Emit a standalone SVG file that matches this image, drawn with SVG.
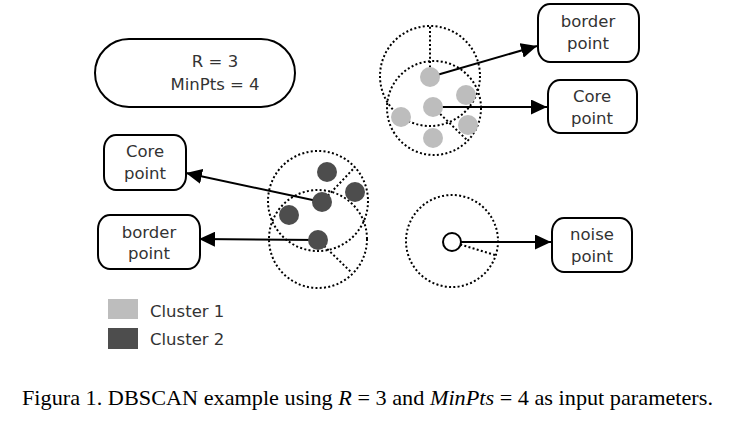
<svg xmlns="http://www.w3.org/2000/svg" width="729" height="423" viewBox="0 0 729 423">
<style>
.box{fill:#fff;stroke:#000;stroke-width:2}
.lbl{font-family:"DejaVu Sans",sans-serif;font-size:16.5px;fill:#333;text-anchor:middle}
.zone{fill:none;stroke:#000;stroke-width:2;stroke-dasharray:2 2.3}
.conn{stroke:#000;stroke-width:2;fill:none}
.c1{fill:#bdbdbd}
.c2{fill:#4d4d4d}
.cap{font-family:"Liberation Serif",serif;font-size:22px;fill:#000}
</style>
<defs>
<marker id="arr" markerUnits="userSpaceOnUse" markerWidth="17" markerHeight="15" refX="16" refY="7.5" orient="auto">
<path d="M0,0 L16,7.5 L0,15 Z" fill="#000"/>
</marker>
</defs>
<rect width="729" height="423" fill="#fff"/>

<g id="params">
<rect class="box" x="95" y="39" width="200" height="68" rx="34" ry="34"/>
<text class="lbl" x="215" y="67">R = 3</text>
<text class="lbl" x="215" y="90">MinPts = 4</text>
</g>

<g id="zones">
<circle class="zone" cx="430" cy="76" r="50"/>
<circle class="zone" cx="434" cy="108" r="47"/>
<line class="zone" x1="430" y1="76" x2="430" y2="26"/>
<line class="zone" x1="434" y1="108" x2="468" y2="141"/>
<circle class="zone" cx="318" cy="201" r="50"/>
<circle class="zone" cx="318" cy="239" r="49"/>
<line class="zone" x1="322" y1="202" x2="355" y2="167"/>
<line class="zone" x1="318" y1="240" x2="352" y2="273"/>
<circle class="zone" cx="452" cy="241" r="46"/>
<line class="zone" x1="452" y1="242" x2="495" y2="255"/>
</g>

<g id="connectors">
<line class="conn" x1="430" y1="77" x2="537" y2="46" marker-end="url(#arr)"/>
<line class="conn" x1="433" y1="107" x2="547" y2="107" marker-end="url(#arr)"/>
<line class="conn" x1="322" y1="202" x2="186" y2="173" marker-end="url(#arr)"/>
<line class="conn" x1="318" y1="240" x2="199" y2="239" marker-end="url(#arr)"/>
<line class="conn" x1="452" y1="242" x2="551" y2="242" marker-end="url(#arr)"/>
</g>

<g id="cluster1">
<circle class="c1" cx="430" cy="77" r="10"/>
<circle class="c1" cx="433" cy="107" r="10"/>
<circle class="c1" cx="466" cy="95" r="10"/>
<circle class="c1" cx="401" cy="117" r="10"/>
<circle class="c1" cx="468" cy="125" r="10"/>
<circle class="c1" cx="433" cy="138" r="10"/>
</g>

<g id="cluster2">
<circle class="c2" cx="327" cy="172" r="10"/>
<circle class="c2" cx="355" cy="192" r="10"/>
<circle class="c2" cx="322" cy="202" r="10"/>
<circle class="c2" cx="289" cy="215" r="10"/>
<circle class="c2" cx="318" cy="240" r="10"/>
</g>

<g id="noise">
<circle cx="452" cy="242" r="9" fill="#fff" stroke="#000" stroke-width="2"/>
</g>

<g id="border-top">
<rect class="box" x="538" y="4" width="101" height="58" rx="12" ry="14"/>
<text class="lbl" x="588" y="27">border</text>
<text class="lbl" x="588" y="49">point</text>
</g>
<g id="core-top">
<rect class="box" x="548" y="80" width="89" height="53" rx="12" ry="14"/>
<text class="lbl" x="592" y="102">Core</text>
<text class="lbl" x="592" y="124">point</text>
</g>
<g id="core-left">
<rect class="box" x="104" y="135" width="82" height="55" rx="12" ry="14"/>
<text class="lbl" x="145" y="157">Core</text>
<text class="lbl" x="145" y="179">point</text>
</g>
<g id="border-left">
<rect class="box" x="98" y="215" width="102" height="54" rx="12" ry="14"/>
<text class="lbl" x="149" y="238">border</text>
<text class="lbl" x="149" y="259">point</text>
</g>
<g id="noise-box">
<rect class="box" x="552" y="218" width="80" height="54" rx="12" ry="14"/>
<text class="lbl" x="592" y="240">noise</text>
<text class="lbl" x="592" y="262">point</text>
</g>

<g id="legend">
<rect class="c1" x="108" y="299" width="30" height="20"/>
<text class="lbl" x="150" y="317" style="text-anchor:start">Cluster 1</text>
<rect class="c2" x="108" y="328" width="30" height="21"/>
<text class="lbl" x="150" y="345" style="text-anchor:start">Cluster 2</text>
</g>

<text class="cap" x="22" y="405" textLength="691" lengthAdjust="spacingAndGlyphs">Figura 1. DBSCAN example using <tspan font-style="italic">R</tspan> = 3 and <tspan font-style="italic">MinPts</tspan> = 4 as input parameters.</text>
</svg>
